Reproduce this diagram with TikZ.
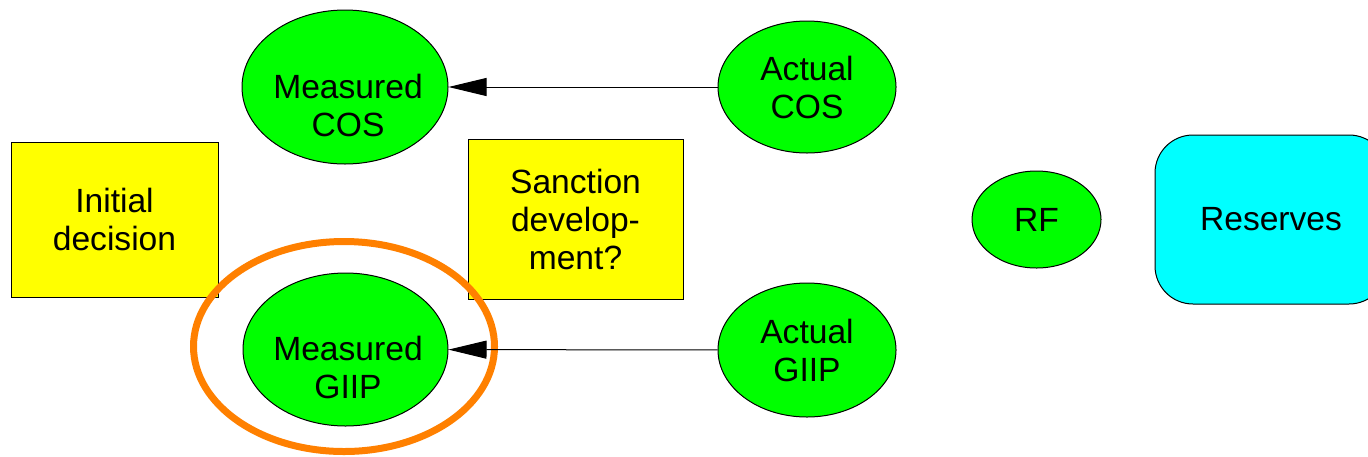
\documentclass[tikz,border=0pt]{standalone}
\usepackage{fontspec}
\setmainfont{Liberation Sans}
\usetikzlibrary{shapes.geometric,arrows.meta}
\definecolor{nodegreen}{RGB}{0,255,0}
\definecolor{boxyellow}{RGB}{255,255,0}
\definecolor{boxcyan}{RGB}{0,255,255}
\definecolor{ringorange}{RGB}{255,128,0}
\tikzset{
  lbl/.style={font=\fontsize{16.8}{19}\selectfont, align=center, text=black, inner sep=0pt},
  uncertain/.style={lbl, ellipse, draw=black, line width=0.5pt, fill=nodegreen},
  decisionbox/.style={lbl, rectangle, draw=black, line width=0.5pt, fill=boxyellow},
  valuebox/.style={lbl, rectangle, rounded corners=19pt, draw=black, line width=0.5pt, fill=boxcyan},
  influence/.style={draw=black, line width=0.5pt, -{Triangle[length=19pt,width=9pt]}},
  highlight/.style={ellipse, draw=ringorange, line width=3.5pt, fill=none}
}
\begin{document}
\begin{tikzpicture}[x=0.5pt,y=-0.5pt]
  \useasboundingbox (0,0) rectangle (1368,456);
  \begin{scope}
    \clip (0,0) rectangle (1368,456);
    % decisions
    \node[decisionbox, minimum width=103.5pt, minimum height=77.5pt] (init) at (114.5,219.5) {Initial\\decision};
    \node[decisionbox, minimum width=107.5pt, minimum height=80pt] (sanction) at (575.5,219.5) {Sanction\\develop-\\ment?};
    % uncertainties (the measured ones carry their labels a little low)
    \node[uncertain, minimum width=103pt, minimum height=77pt] (mcos) at (345,87) {};
    \node[lbl] (mcostext) at (348,105) {Measured\\COS};
    \node[uncertain, minimum width=89pt, minimum height=66pt] (acos) at (807,87) {Actual\\COS};
    \node[uncertain, minimum width=102.5pt, minimum height=76.5pt] (mgiip) at (345.5,349.5) {};
    \node[lbl] (mgiiptext) at (348,367) {Measured\\GIIP};
    \node[uncertain, minimum width=89pt, minimum height=67pt] (agiip) at (807,350) {Actual\\GIIP};
    \node[uncertain, minimum width=64.5pt, minimum height=48.5pt] (rf) at (1036.5,219.5) {RF};
    % value
    \node[valuebox, minimum width=116pt, minimum height=84.5pt] (reserves) at (1271,219.5) {Reserves};
    % highlight around the measured GIIP
    \node[highlight, minimum width=150.5pt, minimum height=105pt] (ring) at (344,346.5) {};
    % influences
    \draw[influence] (acos) -- (mcos);
    \draw[influence] (agiip) -- (mgiip);
  \end{scope}
\end{tikzpicture}
\end{document}
